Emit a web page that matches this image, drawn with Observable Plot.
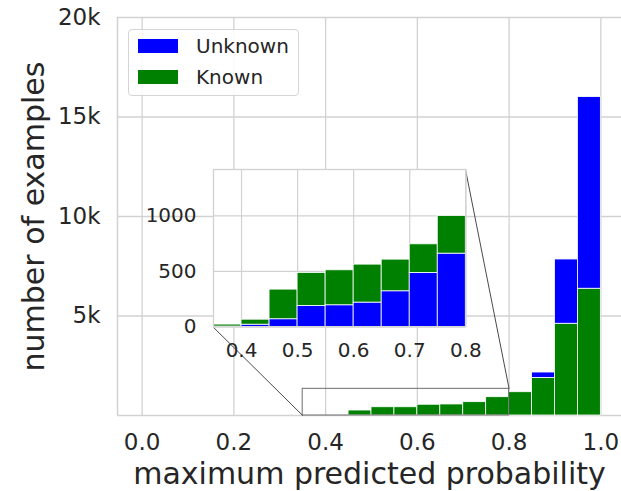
<!DOCTYPE html>
<html>
<head>
<meta charset="utf-8">
<script src="https://cdn.jsdelivr.net/npm/d3@7"></script>
<script src="https://cdn.jsdelivr.net/npm/@observablehq/plot@0.6"></script>
<style>
  html, body { margin: 0; padding: 0; background: #fff; }
  #wrap { position: relative; width: 621px; height: 491px; overflow: hidden; font-family: "DejaVu Sans", sans-serif; }
  #wrap svg { position: absolute; overflow: visible; }
  .legend { position: absolute; box-sizing: border-box; background: rgba(255,255,255,0.85); border: 1px solid #d4d4d4; border-radius: 4px; }
  .legend .row { position: absolute; display: flex; align-items: center; }
  .legend .sw { width: 40px; height: 14px; margin-right: 18px; }
  .legend .lab { font-size: 20px; color: #262626; line-height: 1; }
</style>
</head>
<body>
<div id="wrap"></div>
<script>
// ---------- data ----------
const binWidth = 0.05;
// main histogram (bin starts, known at bottom, unknown on top)
const mainStarts  = [0.45, 0.50, 0.55, 0.60, 0.65, 0.70, 0.75, 0.80, 0.85, 0.90, 0.95];
const mainKnown   = [250, 415, 415, 540, 555, 670, 920, 1170, 1890, 4610, 6370];
const mainUnknown = [0, 0, 0, 0, 0, 0, 0, 0, 270, 3230, 9630];
// inset histogram (unknown at bottom, known on top)
const insetStarts  = [0.35, 0.40, 0.45, 0.50, 0.55, 0.60, 0.65, 0.70, 0.75];
const insetUnknown = [3, 20, 69, 189, 195, 219, 321, 486, 660];
const insetKnown   = [18, 45, 267, 297, 315, 342, 285, 258, 339];
// axes
const xTicks = [0.0, 0.2, 0.4, 0.6, 0.8, 1.0];
const yTicks = [5000, 10000, 15000, 20000];
const insetXTicks = [0.4, 0.5, 0.6, 0.7, 0.8];
const insetYTicks = [0, 500, 1000];
const xDomain = [-0.0537, 1.045];
const yDomain = [0, 20000];
const insetXDomain = [0.35, 0.8];
const insetYDomain = [0, 1418];
// zoom region indicated on main axes and inset placement (main data coords)
const zoomRegion = {x1: 0.35, x2: 0.8, y1: 0, y2: 1340};
const insetPlace = {x1: 0.155, x2: 0.705, y1: 4440, y2: 12350};
const series = ["Unknown", "Known"];
const colors = ["#0000ff", "#008000"];
const textColor = "#262626";
const gridColor = "#d2d2d2";

// ---------- derived rows ----------
const mainRows = [];
mainStarts.forEach((s, i) => {
  mainRows.push({x1: s, x2: s + binWidth, y1: 0, y2: mainKnown[i], s: "Known"});
  if (mainUnknown[i] > 0) mainRows.push({x1: s, x2: s + binWidth, y1: mainKnown[i], y2: mainKnown[i] + mainUnknown[i], s: "Unknown"});
});
const insetRows = [];
insetStarts.forEach((s, i) => {
  insetRows.push({x1: s, x2: s + binWidth, y1: 0, y2: insetUnknown[i], s: "Unknown"});
  insetRows.push({x1: s, x2: s + binWidth, y1: insetUnknown[i], y2: insetUnknown[i] + insetKnown[i], s: "Known"});
});

const wrap = document.getElementById("wrap");

// ---------- main chart ----------
const main = Plot.plot({
  width: 621, height: 491,
  marginLeft: 117, marginRight: 0, marginTop: 17, marginBottom: 76,
  style: {fontFamily: "DejaVu Sans", background: "transparent", color: textColor},
  x: {domain: xDomain},
  y: {domain: yDomain},
  color: {domain: series, range: colors},
  marks: [
    Plot.ruleX(xTicks, {stroke: gridColor, strokeWidth: 1.3}),
    Plot.ruleY(yTicks, {stroke: gridColor, strokeWidth: 1.3}),
    Plot.ruleX([xDomain[0]], {stroke: gridColor, strokeWidth: 1.5}),
    Plot.ruleY([0], {stroke: gridColor, strokeWidth: 1.5}),
    Plot.rect(mainRows, {x1: "x1", x2: "x2", y1: "y1", y2: "y2", fill: "s", stroke: "white", strokeWidth: 0.8}),
    Plot.rect([zoomRegion], {x1: "x1", x2: "x2", y1: "y1", y2: "y2", fill: "none", stroke: "#6e6e6e", strokeWidth: 1}),
    Plot.link([
      {x1: zoomRegion.x1, y1: zoomRegion.y1, x2: insetPlace.x1, y2: insetPlace.y1},
      {x1: zoomRegion.x2, y1: zoomRegion.y2, x2: insetPlace.x2, y2: insetPlace.y2}
    ], {x1: "x1", y1: "y1", x2: "x2", y2: "y2", stroke: "#4a4a4a", strokeWidth: 1}),
    Plot.axisX({ticks: xTicks, tickSize: 0, tickPadding: 18, fontSize: 23, tickFormat: d => d.toFixed(1), label: null, fill: textColor}),
    Plot.axisY({ticks: yTicks, tickSize: 0, tickPadding: 17, fontSize: 23, tickFormat: d => (d / 1000) + "k", label: null, fill: textColor}),
    Plot.text(["maximum predicted probability"], {frameAnchor: "bottom", textAnchor: "middle", lineAnchor: "middle", dy: 59, fontSize: 30, fill: textColor}),
    Plot.text(["number of examples"], {frameAnchor: "left", textAnchor: "middle", lineAnchor: "middle", dx: -83, rotate: -90, fontSize: 30, fill: textColor})
  ]
});
main.style.left = "0px"; main.style.top = "0px";
wrap.appendChild(main);

// ---------- inset placement from main scales ----------
const sx = main.scale("x"), sy = main.scale("y");
const px1 = sx.apply(insetPlace.x1), px2 = sx.apply(insetPlace.x2);
const pyTop = sy.apply(insetPlace.y2), pyBot = sy.apply(insetPlace.y1);
const iml = 70, imr = 30, imt = 2, imb = 50;

const inset = Plot.plot({
  width: (px2 - px1) + iml + imr,
  height: (pyBot - pyTop) + imt + imb,
  marginLeft: iml, marginRight: imr, marginTop: imt, marginBottom: imb,
  style: {fontFamily: "DejaVu Sans", background: "transparent", color: textColor, overflow: "visible"},
  x: {domain: insetXDomain},
  y: {domain: insetYDomain},
  color: {domain: series, range: colors},
  marks: [
    Plot.frame({fill: "white", stroke: "none"}),
    Plot.ruleX(insetXTicks, {stroke: gridColor, strokeWidth: 1.2}),
    Plot.ruleY(insetYTicks, {stroke: gridColor, strokeWidth: 1.2}),
    Plot.rect(insetRows, {x1: "x1", x2: "x2", y1: "y1", y2: "y2", fill: "s", stroke: "white", strokeWidth: 0.8}),
    Plot.frame({stroke: gridColor, strokeWidth: 1.3}),
    Plot.axisX({ticks: insetXTicks, tickSize: 0, tickPadding: 16, fontSize: 20, tickFormat: d => d.toFixed(1), label: null, fill: textColor}),
    Plot.axisY({ticks: insetYTicks, tickSize: 0, tickPadding: 17, fontSize: 20, tickFormat: d => String(d), label: null, fill: textColor})
  ]
});
inset.style.left = (px1 - iml) + "px";
inset.style.top = (pyTop - imt) + "px";
wrap.appendChild(inset);

// ---------- legend ----------
const legend = document.createElement("div");
legend.className = "legend";
legend.style.left = "128px"; legend.style.top = "29px";
legend.style.width = "171px"; legend.style.height = "67px";
const rowTops = [9, 40];
series.forEach((s, i) => {
  const row = document.createElement("div");
  row.className = "row";
  row.style.left = "9px"; row.style.top = rowTops[i] + "px"; row.style.height = "14px";
  const sw = document.createElement("div");
  sw.className = "sw"; sw.style.background = colors[i];
  const lab = document.createElement("span");
  lab.className = "lab"; lab.textContent = s;
  row.appendChild(sw); row.appendChild(lab);
  legend.appendChild(row);
});
wrap.appendChild(legend);
</script>
</body>
</html>
